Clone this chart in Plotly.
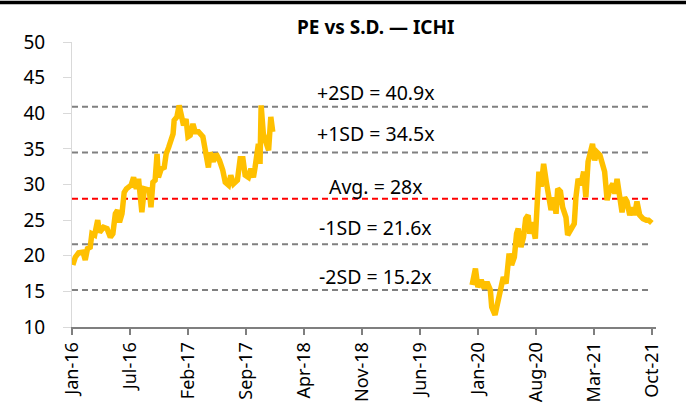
import plotly.graph_objects as go

# ---- data ----
dates_2016_2017 = [
    "2016-01-04", "2016-01-13", "2016-01-25", "2016-02-10", "2016-02-18", "2016-02-26",
    "2016-03-07", "2016-03-13", "2016-03-23", "2016-04-03", "2016-04-10", "2016-04-24",
    "2016-05-07", "2016-05-19", "2016-05-28", "2016-06-06", "2016-06-14", "2016-06-21",
    "2016-06-30", "2016-07-08", "2016-07-16", "2016-08-02", "2016-08-11", "2016-08-21",
    "2016-08-29", "2016-09-10", "2016-09-19", "2016-09-28", "2016-10-07", "2016-10-13",
    "2016-10-20", "2016-10-28", "2016-11-04", "2016-11-09", "2016-11-19", "2016-11-30",
    "2016-12-07", "2016-12-16", "2016-12-24", "2017-01-01", "2017-01-05", "2017-01-15",
    "2017-01-23", "2017-01-31", "2017-02-08", "2017-02-17", "2017-02-24", "2017-03-04",
    "2017-03-14", "2017-03-22", "2017-04-03", "2017-04-19", "2017-04-27", "2017-05-04",
    "2017-05-09", "2017-05-15", "2017-05-27", "2017-06-06", "2017-06-18", "2017-06-30",
    "2017-07-09", "2017-07-21", "2017-07-29", "2017-08-08", "2017-08-22", "2017-09-01",
    "2017-09-11", "2017-09-19", "2017-10-01", "2017-10-10", "2017-10-19", "2017-10-25",
    "2017-11-01", "2017-11-06", "2017-11-12", "2017-11-16", "2017-11-24", "2017-12-03",
    "2017-12-13", "2017-12-21", "2017-12-28",
]
pe_2016_2017 = [
    18.7, 19.8, 20.4, 20.5, 19.4, 21.0,
    21.2, 23.1, 22.9, 25.0, 23.3, 24.0,
    23.8, 22.6, 23.1, 25.9, 26.4, 24.7,
    25.9, 28.9, 29.4, 29.9, 31.0, 29.4,
    30.8, 26.1, 29.4, 29.2, 29.2, 26.8,
    30.3, 30.6, 34.3, 31.0, 32.2, 32.4,
    34.3, 35.2, 36.2, 37.1, 39.0, 39.5,
    41.1, 39.9, 38.3, 39.2, 36.7, 36.9,
    38.5, 37.4, 37.4, 36.7, 35.2, 33.8,
    32.4, 34.5, 33.2, 34.3, 33.4, 32.0,
    30.3, 29.9, 31.3, 30.1, 30.6, 33.6,
    33.6, 31.3, 31.0, 32.2, 31.0, 32.4,
    34.3, 35.7, 32.9, 41.1, 37.1, 36.0,
    34.8, 39.5, 37.4,
]
dates_2020_2021 = [
    "2019-12-20", "2020-01-01", "2020-01-10", "2020-01-22", "2020-02-02", "2020-02-12",
    "2020-02-24", "2020-02-29", "2020-03-12", "2020-03-22", "2020-03-30", "2020-04-11",
    "2020-04-21", "2020-05-02", "2020-05-11", "2020-05-21", "2020-05-29", "2020-06-04",
    "2020-06-14", "2020-06-23", "2020-07-01", "2020-07-10", "2020-07-16", "2020-07-24",
    "2020-08-05", "2020-08-11", "2020-08-18", "2020-08-26", "2020-09-04", "2020-09-14",
    "2020-09-22", "2020-10-01", "2020-10-11", "2020-10-19", "2020-10-25", "2020-11-04",
    "2020-11-12", "2020-11-24", "2020-11-30", "2020-12-12", "2020-12-24", "2020-12-30",
    "2021-01-07", "2021-01-17", "2021-01-27", "2021-02-04", "2021-02-12", "2021-02-19",
    "2021-02-28", "2021-03-08", "2021-03-17", "2021-03-27", "2021-04-05", "2021-04-13",
    "2021-04-22", "2021-05-02", "2021-05-13", "2021-05-20", "2021-05-28", "2021-06-07",
    "2021-06-15", "2021-06-24", "2021-07-03", "2021-07-13", "2021-07-23", "2021-07-30",
    "2021-08-08", "2021-08-18", "2021-08-30", "2021-09-11", "2021-09-19", "2021-10-01",
]
pe_2020_2021 = [
    15.9, 18.2, 15.6, 16.6, 15.4, 16.3,
    15.2, 12.8, 11.7, 13.8, 15.2, 17.0,
    16.1, 20.3, 18.7, 19.8, 23.1, 23.8,
    21.2, 22.6, 25.2, 25.7, 23.1, 24.7,
    22.4, 27.8, 31.8, 29.7, 32.9, 30.3,
    28.7, 26.4, 28.2, 25.9, 29.4, 29.0,
    26.8, 25.4, 22.9, 23.8, 24.5, 28.2,
    30.8, 29.9, 31.8, 28.2, 33.2, 34.3,
    35.7, 33.4, 34.5, 34.1, 32.7, 31.8,
    27.8, 29.4, 30.1, 28.7, 30.8, 28.5,
    26.1, 28.2, 27.6, 25.7, 26.8, 25.7,
    27.6, 25.7, 25.2, 25.0, 25.0, 24.6,
]
gap_date = ["2018-12-01"]

band_values = [40.9, 34.5, 28.0, 21.6, 15.2]
band_labels = ["+2SD = 40.9x", "+1SD = 34.5x", "Avg. = 28x", "-1SD = 21.6x", "-2SD = 15.2x"]
band_colors = ["#808080", "#808080", "#FF0000", "#808080", "#808080"]
label_y = [42.9, 37.2, 29.75, 23.9, 17.1]

title_text = "PE vs S.D. \u2014 ICHI"
x_start, x_end = "2016-01-01", "2021-10-16"
line_end = "2021-10-01"

FONT = "Noto Sans"

x_all = dates_2016_2017 + gap_date + dates_2020_2021
y_all = pe_2016_2017 + [None] + pe_2020_2021

fig = go.Figure()
fig.add_trace(go.Scatter(
    x=x_all, y=y_all, mode="lines", connectgaps=False,
    line=dict(color="#FFC000", width=5.5, shape="linear"),
    showlegend=False, hoverinfo="skip",
))

shapes = []
for v, c in zip(band_values, band_colors):
    shapes.append(dict(type="line", xref="x", yref="y", x0=x_start, x1=line_end,
                       y0=v, y1=v, line=dict(color=c, width=2, dash="6px,4px"),
                       layer="below"))
# black rule at very top of the picture
shapes.append(dict(type="line", xref="paper", yref="paper", x0=-0.13, x1=1.06,
                   y0=1.139, y1=1.139, line=dict(color="#000000", width=3.5)))

annotations = []
for t, yv in zip(band_labels, label_y):
    annotations.append(dict(text=t, xref="paper", yref="y", x=0.52, y=yv,
                            showarrow=False, xanchor="center", yanchor="middle",
                            font=dict(family=FONT, size=19.5, color="#000000")))
annotations.append(dict(text="<b>" + title_text + "</b>", xref="paper", yref="paper",
                        x=0.52, y=1.0 + (42 - 27) / 285, showarrow=False,
                        xanchor="center", yanchor="middle",
                        font=dict(family=FONT, size=19, color="#000000")))

fig.update_layout(
    width=686, height=412,
    margin=dict(l=72, r=30, t=42, b=85, autoexpand=False),
    paper_bgcolor="white", plot_bgcolor="white",
    shapes=shapes, annotations=annotations,
    font=dict(family=FONT, color="#000000"),
)
fig.update_xaxes(
    type="date", range=[x_start, x_end], automargin=False,
    tick0="2016-01-01", dtick=210 * 24 * 3600 * 1000, tickformat="%b-%y",
    tickangle=-90, ticks="outside", ticklen=6, tickcolor="#7f7f7f", tickwidth=1.5,
    showline=True, linecolor="#7f7f7f", linewidth=2, showgrid=False, zeroline=False,
    tickfont=dict(family=FONT, size=18, color="#000000"),
)
fig.update_yaxes(
    range=[10, 50], dtick=5, tick0=10, automargin=False,
    ticks="outside", ticklen=8, tickcolor="#d9d9d9", tickwidth=1,
    showline=True, linecolor="#d9d9d9", linewidth=1, showgrid=False, zeroline=False,
    ticklabelstandoff=14,
    tickfont=dict(family=FONT, size=19, color="#000000"),
)

fig.write_html(
    "out.html",
    config={"displayModeBar": False},
    post_script="document.body.style.margin='0';document.body.style.overflow='hidden';",
)
